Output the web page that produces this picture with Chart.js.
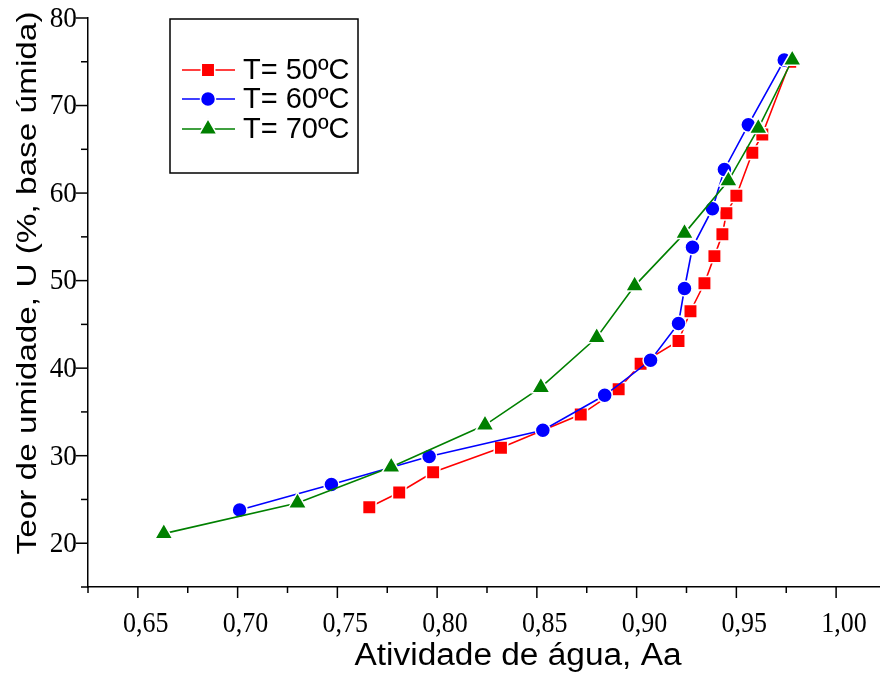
<!DOCTYPE html>
<html><head><meta charset="utf-8">
<script src="https://cdn.jsdelivr.net/npm/chart.js@4/dist/chart.umd.min.js"></script>
<style>html,body{margin:0;padding:0;background:#fff}#wrap{width:880px;height:675px}</style>
</head><body><div id="wrap"><canvas id="c" width="880" height="675"></canvas></div>
<script>
const seriesNames = ['T= 50ºC', 'T= 60ºC', 'T= 70ºC'];
const aw50 = [0.766, 0.781, 0.798, 0.832, 0.872, 0.891, 0.902, 0.921, 0.927, 0.934, 0.939, 0.943, 0.945, 0.950, 0.958, 0.963, 0.977];
const u50  = [24.1, 25.8, 28.1, 30.9, 34.7, 37.6, 40.5, 43.1, 46.5, 49.7, 52.8, 55.3, 57.7, 59.7, 64.6, 66.7, 75.0];
const aw60 = [0.701, 0.747, 0.796, 0.853, 0.884, 0.907, 0.921, 0.924, 0.928, 0.938, 0.944, 0.956, 0.974];
const u60  = [23.8, 26.7, 29.9, 32.9, 36.9, 40.9, 45.1, 49.1, 53.8, 58.2, 62.7, 67.8, 75.2];
const aw70 = [0.663, 0.730, 0.777, 0.824, 0.852, 0.880, 0.899, 0.924, 0.946, 0.961, 0.978];
const u70  = [21.1, 24.6, 28.7, 33.5, 37.8, 43.5, 49.4, 55.4, 61.4, 67.4, 75.2];

const xTickValues = [0.65, 0.70, 0.75, 0.80, 0.85, 0.90, 0.95, 1.00];
const xTickLabels = ['0,65', '0,70', '0,75', '0,80', '0,85', '0,90', '0,95', '1,00'];
const xMinorTicks = [0.625, 0.675, 0.725, 0.775, 0.825, 0.875, 0.925, 0.975];
const yTickValues = [20, 30, 40, 50, 60, 70, 80];
const yTickLabels = ['20', '30', '40', '50', '60', '70', '80'];
const yMinorTicks = [15, 25, 35, 45, 55, 65, 75];
const xTitle = 'Atividade de água, Aa';
const yTitle = 'Teor de umidade, U (%, base úmida)';

const colors = ['#ff0000', '#0000ff', '#008000'];
const styles = ['rect', 'circle', 'triangle'];
const radii = [9.5, 7.5, 10.5];

function pts(xs, ys) { return xs.map((x, i) => ({x: x, y: ys[i]})); }
const seriesData = [pts(aw50, u50), pts(aw60, u60), pts(aw70, u70)];

const datasets = seriesData.map((d, i) => ({
  label: seriesNames[i],
  data: d,
  showLine: true,
  borderColor: colors[i],
  backgroundColor: colors[i],
  borderWidth: 1.6,
  pointStyle: styles[i],
  pointRadius: radii[i],
  pointBackgroundColor: colors[i],
  pointBorderColor: '#ffffff',
  pointBorderWidth: 1.5,
  order: 3 - i,
  tension: 0
}));

const SERIF = '"Liberation Serif", "Times New Roman", serif';
const SANS = '"Liberation Sans", Arial, sans-serif';

const decorPlugin = {
  id: 'decor',
  afterDraw(chart) {
    const ctx = chart.ctx, xs = chart.scales.x, ys = chart.scales.y, ca = chart.chartArea;
    ctx.save();
    ctx.strokeStyle = '#000'; ctx.lineWidth = 1.5;
    function seg(a, b, c, d) { ctx.beginPath(); ctx.moveTo(a, b); ctx.lineTo(c, d); ctx.stroke(); }
    xTickValues.forEach(v => { const p = xs.getPixelForValue(v); seg(p, ca.bottom, p, ca.bottom + 11); });
    xMinorTicks.forEach(v => { const p = xs.getPixelForValue(v); seg(p, ca.bottom, p, ca.bottom + 6); });
    yTickValues.forEach(v => { const p = ys.getPixelForValue(v); seg(ca.left - 12, p, ca.left, p); });
    yMinorTicks.forEach(v => { const p = ys.getPixelForValue(v); seg(ca.left - 7, p, ca.left, p); });

    // tick labels
    ctx.fillStyle = '#000';
    ctx.font = '26px ' + SERIF;
    ctx.textBaseline = 'middle';
    ctx.textAlign = 'center';
    xTickValues.forEach((v, i) => {
      const p = xs.getPixelForValue(v);
      ctx.save(); ctx.translate(p + 8, ca.bottom + 37); ctx.scale(1, 1.12);
      ctx.fillText(xTickLabels[i], 0, 0); ctx.restore();
    });
    ctx.textAlign = 'right';
    yTickValues.forEach((v, i) => {
      const p = ys.getPixelForValue(v);
      ctx.save(); ctx.translate(ca.left - 11, p + 1); ctx.scale(1.05, 1.15);
      ctx.fillText(yTickLabels[i], 0, 0); ctx.restore();
    });

    // axis titles
    ctx.textAlign = 'center'; ctx.textBaseline = 'middle';
    ctx.font = '31px ' + SANS;
    let w = ctx.measureText(xTitle).width;
    ctx.save(); ctx.translate(518, 656); ctx.scale(327 / w, 1); ctx.fillText(xTitle, 0, 0); ctx.restore();
    ctx.font = '28px ' + SANS;
    w = ctx.measureText(yTitle).width;
    ctx.save(); ctx.translate(28, 283); ctx.rotate(-Math.PI / 2); ctx.scale(543 / w, 1); ctx.fillText(yTitle, 0, 0); ctx.restore();

    // legend
    ctx.lineWidth = 1.5; ctx.strokeStyle = '#000';
    ctx.strokeRect(170, 19, 188, 154);
    const rows = [70, 99, 129];
    ctx.font = '29px ' + SANS;
    ctx.textAlign = 'left';
    datasets.forEach((ds, i) => {
      const y = rows[i];
      ctx.strokeStyle = ds.borderColor; ctx.lineWidth = 1.6;
      seg(182, y, 235, y);
      ctx.fillStyle = ds.pointBackgroundColor; ctx.strokeStyle = '#fff'; ctx.lineWidth = 1.5;
      Chart.helpers.drawPoint(ctx, {pointStyle: ds.pointStyle, rotation: 0, radius: ds.pointRadius, borderWidth: 1.5}, 208, y);
      ctx.fillStyle = '#000';
      ctx.fillText(ds.label, 243, y + 1);
    });
    ctx.restore();
  }
};

new Chart(document.getElementById('c'), {
  type: 'scatter',
  data: {datasets: datasets},
  plugins: [decorPlugin],
  options: {
    responsive: false,
    animation: false,
    layout: {autoPadding: false, padding: {top: 18, right: 0, left: 0, bottom: 0}},
    plugins: {legend: {display: false}, tooltip: {enabled: false}, title: {display: false}},
    scales: {
      x: {
        type: 'linear', min: 0.625, max: 1.022,
        afterBuildTicks: s => { s.ticks = xTickValues.map(v => ({value: v})); },
        afterFit: s => { s.height = 88; s.paddingLeft = 0; s.paddingRight = 0; },
        grid: {display: false, drawTicks: false},
        border: {display: true, color: '#000', width: 1.5},
        ticks: {display: false}
      },
      y: {
        type: 'linear', min: 15, max: 80,
        afterBuildTicks: s => { s.ticks = yTickValues.map(v => ({value: v})); },
        afterFit: s => { s.width = 88; s.paddingTop = 0; s.paddingBottom = 0; },
        grid: {display: false, drawTicks: false},
        border: {display: true, color: '#000', width: 1.5},
        ticks: {display: false}
      }
    }
  }
});
</script></body></html>
